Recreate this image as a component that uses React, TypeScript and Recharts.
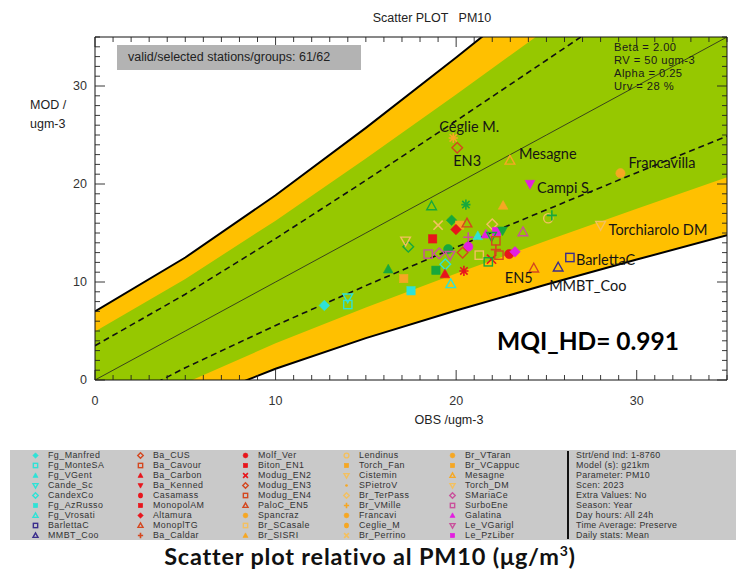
import React from 'react'
import { ComposedChart, Area, Line, Scatter, XAxis, YAxis } from 'recharts'

// ---- acceptance bands, read along the OBS axis (ugm-3) ----
const bandObs    = [0, 5, 10, 15, 20, 25, 30, 35]
const outerLower = [-7.0, -2.5, 1.15, 4.27, 7.09, 9.74, 12.29, 14.77]
const outerUpper = [7.0, 12.5, 18.85, 25.73, 32.9, 40.3, 47.7, 55.2]
const greenLower = [-4.95, -0.31, 3.74, 7.41, 10.87, 14.21, 17.48, 20.7]
const greenUpper = [4.95, 10.31, 16.26, 22.59, 29.13, 35.79, 42.52, 49.3]
const dashLower  = [-3.5, 1.25, 5.57, 9.63, 13.55, 17.37, 21.15, 24.89]
const dashUpper  = [3.5, 8.75, 14.43, 20.37, 26.45, 32.63, 38.85, 45.1]
const oneToOne   = [0, 5, 10, 15, 20, 25, 30, 35]

// ---- stations: mean OBS vs mean MOD (ugm-3) ----
const stations = [
  'Fg_Manfred', 'Fg_MonteSA', 'Cande_Sc', 'Fg_AzRusso', 'Fg_Vrosati', 'CandexCo', 'Fg_VGent',
  'BarlettaC', 'MMBT_Coo', 'Modug_EN3', 'Ceglie_M', 'Mesagne', 'Campi_S', 'Francavi',
  'Torch_DM', 'PaloC_EN5', 'Lendinus', 'Grp_G01', 'Le_Grp01', 'Grp_G02', 'Grp_G03',
  'Br_SISRI', 'Grp_G04', 'Br_Perrino', 'Br_VCappuc', 'MonoplTG', 'Altamura', 'Br_TerPass',
  'Le_Grp02', 'Galatina', 'Le_PzLiber', 'Grp_G05', 'Grp_G06', 'Modug_EN4', 'MonopolAM',
  'Grp_G07', 'Le_Grp03', 'SurboEne', 'SMariaCe', 'Le_VGarigl', 'Ba_CUS', 'Grp_G08',
  'Ba_Carbon', 'Casamass', 'Torch_Fan', 'Grp_G09', 'Grp_G10', 'Br_SCasale', 'Modug_EN2',
  'Grp_G11', 'Ba_Cavour', 'Ba_Caldar', 'Molf_Ver', 'Le_Grp04', 'Cistemin',
]
const obsMean = [
  12.7, 14.0, 14.0, 17.5, 19.7, 19.4, 21.2,
  26.3, 25.65, 20.06, 19.84, 22.98, 24.09, 29.1,
  28.0, 24.3, 25.1, 25.3, 23.7, 20.54, 18.64,
  22.6, 19.75, 19.0, 20.2, 20.6, 19.99, 22.0,
  20.67, 21.65, 22.24, 22.57, 21.96, 22.2, 18.7,
  19.56, 20.67, 18.45, 19.06, 19.66, 20.36, 18.88,
  19.38, 20.43, 17.1, 16.24, 17.35, 21.28, 21.96,
  21.78, 22.37, 22.2, 22.94, 23.26, 17.2,
]
const modMean = [
  7.6, 7.7, 8.4, 9.1, 9.8, 11.8, 14.7,
  12.5, 11.5, 23.7, 24.7, 22.4, 20.0, 21.1,
  15.8, 11.4, 16.5, 16.8, 15.1, 17.9, 17.75,
  17.8, 16.3, 15.8, 15.8, 16.0, 15.35, 15.9,
  14.56, 14.87, 15.14, 15.24, 14.67, 14.2, 14.4,
  13.36, 13.6, 12.85, 12.92, 12.74, 13.0, 11.2,
  10.8, 11.13, 10.35, 11.3, 13.6, 12.74, 12.33,
  12.06, 12.74, 13.3, 12.85, 13.08, 14.2,
]

// ---- legend (column by column) ----
const legendNames = [
  'Fg_Manfred', 'Fg_MonteSA', 'Fg_VGent', 'Cande_Sc', 'CandexCo', 'Fg_AzRusso', 'Fg_Vrosati', 'BarlettaC', 'MMBT_Coo',
  'Ba_CUS', 'Ba_Cavour', 'Ba_Carbon', 'Ba_Kenned', 'Casamass', 'MonopolAM', 'Altamura', 'MonoplTG', 'Ba_Caldar',
  'Molf_Ver', 'Biton_EN1', 'Modug_EN2', 'Modug_EN3', 'Modug_EN4', 'PaloC_EN5', 'Spancraz', 'Br_SCasale', 'Br_SISRI',
  'Lendinus', 'Torch_Fan', 'Cistemin', 'SPietroV', 'Br_TerPass', 'Br_VMille', 'Francavi', 'Ceglie_M', 'Br_Perrino',
  'Br_VTaran', 'Br_VCappuc', 'Mesagne', 'Torch_DM', 'SMariaCe', 'SurboEne', 'Galatina', 'Le_VGarigl', 'Le_PzLiber',
]
const runInfo = [
  'Strt/end Ind: 1-8760', 'Model (s): g21km', 'Parameter: PM10', 'Scen: 2023', 'Extra Values: No',
  'Season: Year', 'Day hours: All 24h', 'Time Average: Preserve', 'Daily stats: Mean',
]
const paramLines = ['Beta = 2.00', 'RV = 50 ugm-3', 'Alpha = 0.25', 'Urv = 28 %']
const majorTicks = [0, 10, 20, 30]
const allTicks = Array.from({ length: 36 }, (_, i) => i)

// ---- styles ----
type Shape = 'circle' | 'square' | 'diamond' | 'triangle' | 'triangleDown' | 'cross' | 'plus' | 'star' | 'dot'
interface MarkStyle { shape: Shape; color: string; open?: boolean }

const CYAN = '#2fe2d6', NAVY = '#3b2d8c', RED = '#e8151c', BRICK = '#d4471f'
const ORANGE = '#f6a723', PALEOR = '#f3c060', MAGENTA = '#e31fe0', MAUVE = '#c9519c', GREEN = '#17a83c'
const BAND_YELLOW = '#ffc000', BAND_GREEN = '#96c800'

const markerStyles: Record<string, MarkStyle> = {
  Fg_Manfred: { shape: 'diamond', color: CYAN },
  Fg_MonteSA: { shape: 'square', color: CYAN, open: true },
  Cande_Sc: { shape: 'triangleDown', color: CYAN, open: true },
  Fg_AzRusso: { shape: 'square', color: CYAN },
  Fg_Vrosati: { shape: 'triangle', color: CYAN, open: true },
  CandexCo: { shape: 'diamond', color: CYAN, open: true },
  Fg_VGent: { shape: 'triangle', color: CYAN },
  BarlettaC: { shape: 'square', color: NAVY, open: true },
  MMBT_Coo: { shape: 'triangle', color: NAVY, open: true },
  Ba_CUS: { shape: 'diamond', color: BRICK, open: true },
  Ba_Cavour: { shape: 'square', color: BRICK, open: true },
  Ba_Carbon: { shape: 'triangle', color: RED },
  Ba_Kenned: { shape: 'triangleDown', color: RED },
  Casamass: { shape: 'star', color: RED },
  MonopolAM: { shape: 'square', color: RED },
  Altamura: { shape: 'diamond', color: RED },
  MonoplTG: { shape: 'triangle', color: BRICK, open: true },
  Ba_Caldar: { shape: 'plus', color: BRICK },
  Molf_Ver: { shape: 'circle', color: RED },
  Biton_EN1: { shape: 'square', color: RED },
  Modug_EN2: { shape: 'cross', color: RED },
  Modug_EN3: { shape: 'diamond', color: BRICK, open: true },
  Modug_EN4: { shape: 'square', color: BRICK, open: true },
  PaloC_EN5: { shape: 'triangle', color: BRICK, open: true },
  Spancraz: { shape: 'circle', color: ORANGE },
  Br_SCasale: { shape: 'square', color: PALEOR, open: true },
  Br_SISRI: { shape: 'triangle', color: ORANGE },
  Lendinus: { shape: 'circle', color: PALEOR, open: true },
  Torch_Fan: { shape: 'square', color: ORANGE },
  Cistemin: { shape: 'triangleDown', color: PALEOR, open: true },
  SPietroV: { shape: 'dot', color: ORANGE },
  Br_TerPass: { shape: 'diamond', color: PALEOR, open: true },
  Br_VMille: { shape: 'plus', color: ORANGE },
  Francavi: { shape: 'circle', color: ORANGE },
  Ceglie_M: { shape: 'star', color: ORANGE },
  Br_Perrino: { shape: 'cross', color: PALEOR },
  Br_VTaran: { shape: 'circle', color: ORANGE },
  Br_VCappuc: { shape: 'square', color: ORANGE },
  Mesagne: { shape: 'triangle', color: ORANGE, open: true },
  Torch_DM: { shape: 'triangleDown', color: PALEOR, open: true },
  SMariaCe: { shape: 'diamond', color: MAUVE, open: true },
  SurboEne: { shape: 'square', color: MAUVE, open: true },
  Galatina: { shape: 'triangle', color: MAGENTA },
  Le_VGarigl: { shape: 'triangleDown', color: MAUVE, open: true },
  Le_PzLiber: { shape: 'square', color: MAGENTA },
  Campi_S: { shape: 'triangleDown', color: MAGENTA },
  Le_Grp01: { shape: 'triangle', color: MAUVE, open: true },
  Le_Grp02: { shape: 'plus', color: MAUVE },
  Le_Grp03: { shape: 'circle', color: MAGENTA },
  Le_Grp04: { shape: 'diamond', color: MAGENTA },
  Grp_G01: { shape: 'plus', color: GREEN },
  Grp_G02: { shape: 'star', color: GREEN },
  Grp_G03: { shape: 'triangle', color: GREEN, open: true },
  Grp_G04: { shape: 'diamond', color: GREEN },
  Grp_G05: { shape: 'triangleDown', color: GREEN },
  Grp_G06: { shape: 'triangleDown', color: GREEN, open: true },
  Grp_G07: { shape: 'circle', color: GREEN },
  Grp_G08: { shape: 'square', color: GREEN },
  Grp_G09: { shape: 'triangle', color: GREEN },
  Grp_G10: { shape: 'diamond', color: GREEN, open: true },
  Grp_G11: { shape: 'square', color: GREEN, open: true },
}

// station name written next to its point (pixel offset of the text from the marker)
const stationLabels: Record<string, { text: string; dx: number; dy: number }> = {
  Ceglie_M: { text: 'Céglie M.', dx: -14, dy: -11 },
  Modug_EN3: { text: 'EN3', dx: -4, dy: 13 },
  Mesagne: { text: 'Mesagne', dx: 9, dy: -7 },
  Campi_S: { text: 'Campi S.', dx: 7, dy: 3 },
  Francavi: { text: 'Francavilla', dx: 8, dy: -11 },
  Torch_DM: { text: 'Torchiarolo DM', dx: 8, dy: 4 },
  BarlettaC: { text: 'BarlettaC', dx: 6, dy: 2 },
  MMBT_Coo: { text: 'MMBT_Coo', dx: -9, dy: 18 },
  PaloC_EN5: { text: 'EN5', dx: -29, dy: 9 },
}

const bandRows = bandObs.map((x, i) => ({
  x,
  outer: [outerLower[i], outerUpper[i]],
  green: [greenLower[i], greenUpper[i]],
  dashLo: dashLower[i],
  dashHi: dashUpper[i],
  diag: oneToOne[i],
}))
const stationRows = stations.map((name, i) => ({ name, x: obsMean[i], y: modMean[i] }))

const SANS = '"Liberation Sans", Arial, sans-serif'
const CAL = 'Lato, "Open Sans", sans-serif'

function Marker({ cx, cy, s, r }: { cx: number; cy: number; s: MarkStyle; r: number }) {
  const fill = s.open ? 'none' : s.color
  const common = { fill, stroke: s.color, strokeWidth: s.open ? 1.4 : 0.6 }
  const line = { fill: 'none', stroke: s.color, strokeWidth: 1.6 }
  switch (s.shape) {
    case 'circle':
      return <circle cx={cx} cy={cy} r={r} {...common} />
    case 'dot':
      return <circle cx={cx} cy={cy} r={r * 0.55} fill={s.color} />
    case 'square':
      return <rect x={cx - r * 0.9} y={cy - r * 0.9} width={r * 1.8} height={r * 1.8} {...common} />
    case 'diamond': {
      const d = r * 1.15
      return <polygon points={`${cx},${cy - d} ${cx + d},${cy} ${cx},${cy + d} ${cx - d},${cy}`} {...common} />
    }
    case 'triangle':
      return <polygon points={`${cx},${cy - r * 1.1} ${cx + r * 1.05},${cy + r * 0.8} ${cx - r * 1.05},${cy + r * 0.8}`} {...common} />
    case 'triangleDown':
      return <polygon points={`${cx},${cy + r * 1.1} ${cx + r * 1.05},${cy - r * 0.8} ${cx - r * 1.05},${cy - r * 0.8}`} {...common} />
    case 'cross':
      return <path d={`M${cx - r},${cy - r}L${cx + r},${cy + r}M${cx + r},${cy - r}L${cx - r},${cy + r}`} {...line} />
    case 'plus':
      return <path d={`M${cx - r * 1.1},${cy}L${cx + r * 1.1},${cy}M${cx},${cy - r * 1.1}L${cx},${cy + r * 1.1}`} {...line} />
    case 'star':
      return (
        <path
          d={`M${cx - r},${cy}L${cx + r},${cy}M${cx},${cy - r * 1.1}L${cx},${cy + r * 1.1}` +
            `M${cx - r * 0.8},${cy - r * 0.8}L${cx + r * 0.8},${cy + r * 0.8}M${cx + r * 0.8},${cy - r * 0.8}L${cx - r * 0.8},${cy + r * 0.8}`}
          {...line}
        />
      )
  }
  return null
}

const renderStation = (props: any) => {
  const { cx, cy, payload } = props
  const st = markerStyles[payload.name]
  const lab = stationLabels[payload.name]
  return (
    <g>
      <Marker cx={cx} cy={cy} s={st} r={4.6} />
      {lab && (
        <text x={cx + lab.dx} y={cy + lab.dy} dominantBaseline="central" fontFamily={CAL} fontSize={14.5} fill="#151515">
          {lab.text}
        </text>
      )}
    </g>
  )
}

// inward IDL-style ticks; labels only on the bottom / left axes
const tickLen = (v: number) => (majorTicks.includes(v) ? 10 : 5)

const BottomTick = ({ x, y, payload }: any) => (
  <g>
    <line x1={x} y1={y} x2={x} y2={y - tickLen(payload.value)} stroke="#222" strokeWidth={0.9} />
    {majorTicks.includes(payload.value) && (
      <text x={x} y={y + 21} dy="0.35em" textAnchor="middle" fontFamily={SANS} fontSize={12.5} fill="#333">
        {payload.value}
      </text>
    )}
  </g>
)
const TopTick = ({ x, y, payload }: any) => (
  <line x1={x} y1={y} x2={x} y2={y + tickLen(payload.value)} stroke="#222" strokeWidth={0.9} />
)
const LeftTick = ({ x, y, payload }: any) => (
  <g>
    <line x1={x} y1={y} x2={x + tickLen(payload.value)} y2={y} stroke="#222" strokeWidth={0.9} />
    {majorTicks.includes(payload.value) && (
      <text x={x - 8} y={y} dy="0.35em" textAnchor="end" fontFamily={SANS} fontSize={12.5} fill="#333">
        {payload.value}
      </text>
    )}
  </g>
)
const RightTick = ({ x, y, payload }: any) => (
  <line x1={x} y1={y} x2={x - tickLen(payload.value)} y2={y} stroke="#222" strokeWidth={0.9} />
)

const abs = (left: number, top: number, extra: React.CSSProperties = {}): React.CSSProperties => ({
  position: 'absolute', left, top, ...extra,
})

const ROW = 10
const ROW0 = 455

export default function App() {
  return (
    <div style={{ position: 'absolute', left: 0, top: 0, width: 740, height: 570, background: '#fff', overflow: 'hidden' }}>
      <div style={abs(0, 0)}>
        <ComposedChart width={740} height={440} data={bandRows} margin={{ top: 36, right: 12, bottom: 30, left: 55 }}>
          <XAxis
            dataKey="x" type="number" domain={[0, 35]} allowDataOverflow ticks={allTicks} interval={0}
            tickSize={0} tickMargin={0} tickLine={false} tick={BottomTick} height={30}
            axisLine={{ stroke: '#111' }}
          />
          <XAxis
            xAxisId="top" orientation="top" dataKey="x" type="number" domain={[0, 35]} allowDataOverflow
            ticks={allTicks} interval={0} tickSize={0} tickMargin={0} tickLine={false} tick={TopTick} height={1}
            axisLine={{ stroke: '#111' }}
          />
          <YAxis
            type="number" domain={[0, 35]} allowDataOverflow ticks={allTicks} interval={0}
            tickSize={0} tickMargin={0} tickLine={false} tick={LeftTick} width={40}
            axisLine={{ stroke: '#111' }}
          />
          <YAxis
            yAxisId="right" orientation="right" type="number" domain={[0, 35]} allowDataOverflow
            ticks={allTicks} interval={0} tickSize={0} tickMargin={0} tickLine={false} tick={RightTick} width={1}
            axisLine={{ stroke: '#111' }}
          />

          <Area dataKey="outer" fill={BAND_YELLOW} fillOpacity={1} stroke="#000" strokeWidth={2} isAnimationActive={false} />
          <Area dataKey="green" fill={BAND_GREEN} fillOpacity={1} stroke="none" isAnimationActive={false} />
          <Line dataKey="dashHi" stroke="#111" strokeWidth={1.6} strokeDasharray="6 4" dot={false} isAnimationActive={false} />
          <Line dataKey="dashLo" stroke="#111" strokeWidth={1.6} strokeDasharray="6 4" dot={false} isAnimationActive={false} />
          <Line dataKey="diag" stroke="#222" strokeWidth={0.8} dot={false} isAnimationActive={false} />

          <Scatter data={stationRows} dataKey="y" shape={renderStation} isAnimationActive={false} />
        </ComposedChart>
      </div>

      {/* title and plot annotations */}
      <div style={abs(332, 11, { width: 200, textAlign: 'center', fontFamily: SANS, fontSize: 12.5, color: '#222', whiteSpace: 'pre' })}>
        {'Scatter PLOT   PM10'}
      </div>
      <div style={abs(117, 45, { width: 244, height: 25, background: '#b3b3b3', fontFamily: SANS, fontSize: 12.5, color: '#222', lineHeight: '25px', paddingLeft: 11, boxSizing: 'border-box' })}>
        valid/selected stations/groups: 61/62
      </div>
      <div style={abs(614, 41, { fontFamily: SANS, fontSize: 11.2, letterSpacing: 0.45, lineHeight: '13px', color: '#1a1a1a' })}>
        {paramLines.map(t => <div key={t} style={{ height: 13 }}>{t}</div>)}
      </div>
      <div style={abs(30, 96, { fontFamily: SANS, fontSize: 12.5, lineHeight: '19px', color: '#222' })}>
        <div>MOD /</div>
        <div>ugm-3</div>
      </div>
      <div style={abs(349, 413, { width: 200, textAlign: 'center', fontFamily: SANS, fontSize: 12.5, color: '#222' })}>
        OBS /ugm-3
      </div>
      <div style={abs(497, 325, { fontFamily: CAL, fontWeight: 700, fontSize: 24.5, lineHeight: '32px', color: '#000', whiteSpace: 'nowrap' })}>
        MQI_HD= 0.991
      </div>

      {/* legend panel */}
      <div style={abs(10, 450, { width: 726, height: 90, background: '#c9c9c9' })} />
      <div style={abs(567, 451, { width: 1.5, height: 88, background: '#111' })} />
      {legendNames.map((name, i) => {
        const col = Math.floor(i / 9)
        const row = i % 9
        const sx = [35, 140, 245, 346, 452][col]
        const ty = ROW0 + row * ROW
        return (
          <React.Fragment key={name}>
            <svg style={abs(sx - 4.5, ty - 4.5)} width={9} height={9}>
              <Marker cx={4.5} cy={4.5} s={markerStyles[name]} r={2.4} />
            </svg>
            <div style={abs(sx + 13, ty - ROW / 2, { fontFamily: SANS, fontSize: 8.9, letterSpacing: 0.45, lineHeight: `${ROW}px`, height: ROW, color: '#333', whiteSpace: 'nowrap' })}>
              {name}
            </div>
          </React.Fragment>
        )
      })}
      {runInfo.map((t, row) => (
        <div key={t} style={abs(576, ROW0 + row * ROW - ROW / 2, { fontFamily: SANS, fontSize: 8.9, letterSpacing: 0.3, lineHeight: `${ROW}px`, height: ROW, color: '#333', whiteSpace: 'nowrap' })}>
          {t}
        </div>
      ))}

      <div style={abs(0, 542, { width: 740, textAlign: 'center', fontFamily: CAL, fontWeight: 700, fontSize: 23.5, lineHeight: '28px', letterSpacing: 0.8, color: '#111' })}>
        Scatter plot relativo al PM10 (μg/m<sup style={{ fontSize: 14, lineHeight: 0 }}>3</sup>)
      </div>
    </div>
  )
}
